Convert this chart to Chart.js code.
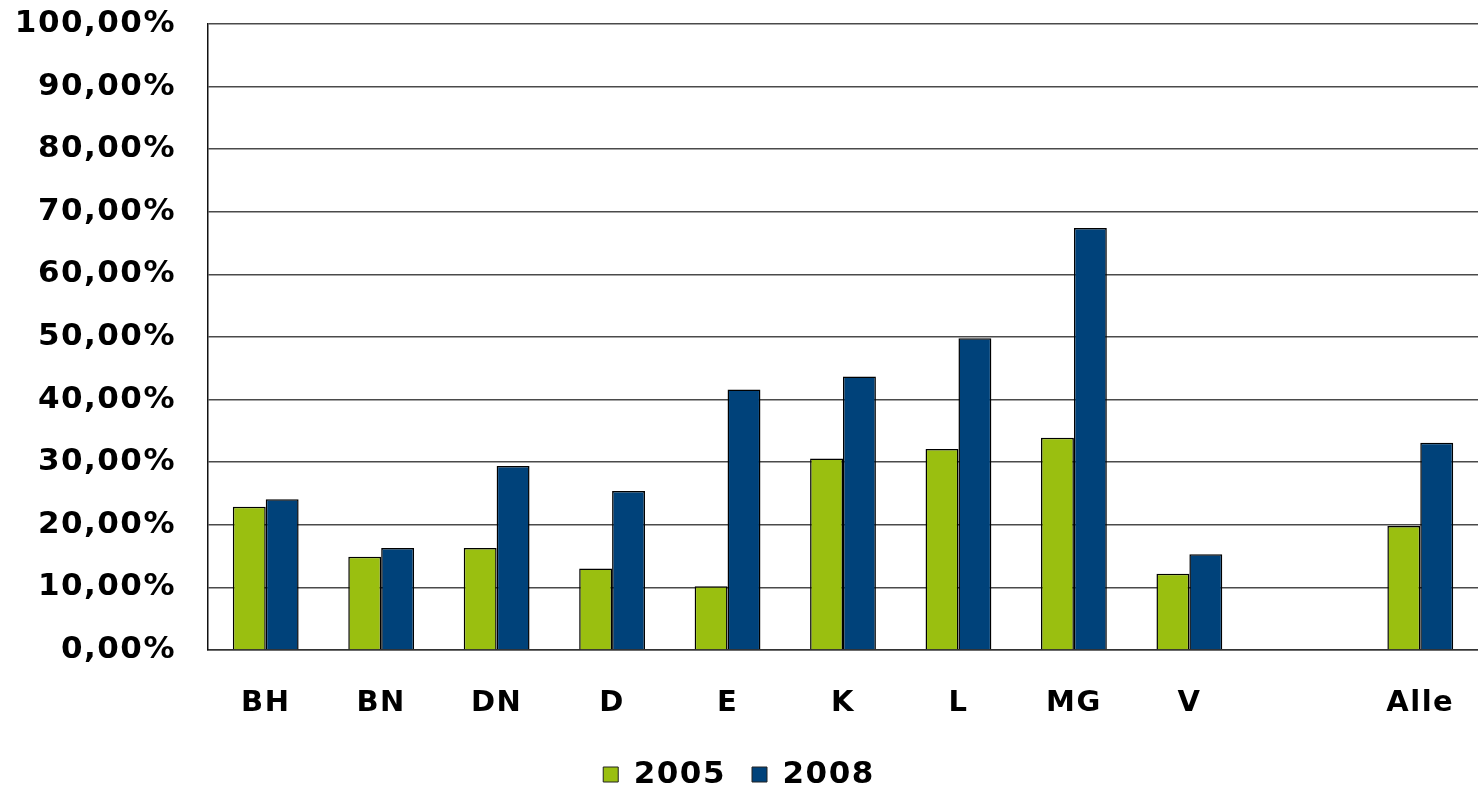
<!DOCTYPE html>
<html>
<head>
<meta charset="utf-8">
<script src="https://cdn.jsdelivr.net/npm/chart.js@4"></script>
<style>
  html, body { margin: 0; padding: 0; background: #fff; }
  #wrap { width: 1478px; height: 788px; }
</style>
</head>
<body>
<div id="wrap"><canvas id="c" width="1478" height="788"></canvas></div>
<script>
// Categories (an empty slot separates the regions from the overall value)
const categories = ['BH', 'BN', 'DN', 'D', 'E', 'K', 'L', 'MG', 'V', '', 'Alle'];
const values2005 = [22.9, 14.9, 16.3, 13.0, 10.2, 30.6, 32.1, 33.9, 12.2, null, 19.8];
const values2008 = [24.1, 16.3, 29.4, 25.4, 41.6, 43.7, 49.8, 67.4, 15.3, null, 33.1];
const seriesNames = ['2005', '2008'];
const yTicks = [0, 10, 20, 30, 40, 50, 60, 70, 80, 90, 100];

const FONT = "'DejaVu Sans', Verdana, sans-serif";
const GREEN = '#9ABF10';
const BLUE = '#00427A';
const EDGE = '#000';

const fmtPct = v => v.toFixed(2).replace('.', ',') + '%';

// slightly wider, Verdana-like lettering
const spacing = c => { c.ctx.letterSpacing = '1.5px'; };

new Chart(document.getElementById('c'), {
  type: 'bar',
  data: {
    labels: categories,
    datasets: [
      { label: seriesNames[0], data: values2005, backgroundColor: GREEN,
        borderColor: EDGE, borderWidth: 1.5, borderSkipped: 'bottom' },
      { label: seriesNames[1], data: values2008, backgroundColor: BLUE,
        borderColor: EDGE, borderWidth: 1.5, borderSkipped: 'bottom' }
    ]
  },
  options: {
    responsive: false,
    animation: false,
    devicePixelRatio: 1,
    layout: { padding: { top: 24, right: 0, bottom: -12, left: 0 } },
    datasets: { bar: { categoryPercentage: 0.57, barPercentage: 1.0 } },
    plugins: {
      tooltip: { enabled: false },
      legend: {
        position: 'bottom',
        labels: {
          boxWidth: 15, boxHeight: 15, padding: 26,
          color: '#000',
          font: { family: FONT, size: 31, weight: 'bold' },
          generateLabels: chart => chart.data.datasets.map((ds, i) => ({
            text: ds.label, fillStyle: ds.backgroundColor,
            strokeStyle: '#222', lineWidth: 1, datasetIndex: i
          }))
        }
      }
    },
    scales: {
      x: {
        grid: { display: false },
        border: { display: true, color: '#333', width: 1.5 },
        ticks: {
          color: '#000', padding: 28, maxRotation: 0, autoSkip: false,
          font: { family: FONT, size: 29, weight: 'bold' }
        },
        afterFit: s => { s.height = 83; s.paddingLeft = 0; s.paddingRight = 0; }
      },
      y: {
        min: 0, max: 100,
        afterBuildTicks: s => { s.ticks = yTicks.map(v => ({ value: v })); },
        grid: { color: '#4a4a4a', lineWidth: 1.5, drawTicks: false },
        border: { display: true, color: '#111', width: 1.5 },
        ticks: {
          color: '#000', padding: 32,
          font: { family: FONT, size: 31, weight: 'bold' },
          callback: v => fmtPct(v)
        },
        afterFit: s => { s.width = 208; s.paddingTop = 0; s.paddingBottom = 0; }
      }
    }
  },
  plugins: [{
    id: 'canvasSetup',
    afterInit: spacing,
    beforeUpdate: spacing,
    beforeDraw: c => {
      spacing(c);
      const ctx = c.ctx; ctx.save(); ctx.fillStyle = '#fff';
      ctx.fillRect(0, 0, c.width, c.height); ctx.restore();
    }
  }]
});
</script>
</body>
</html>
